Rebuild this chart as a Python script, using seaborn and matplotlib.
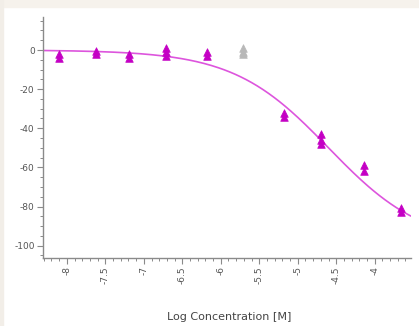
import numpy as np
import pandas as pd
import matplotlib
matplotlib.use("Agg")
import matplotlib.pyplot as plt
import seaborn as sns
from matplotlib.ticker import MultipleLocator

# replicate points (log M, % effect)
conc_x = [-8.10, -8.10, -7.62, -7.62, -7.19, -7.19, -6.71, -6.71, -6.71,
          -6.18, -6.18, -5.18, -5.18, -4.70, -4.70, -4.70,
          -4.14, -4.14, -3.66, -3.66]
resp_y = [-2, -4, -0.5, -2, -2, -4, 1, -1, -3,
          -1, -3, -32, -34, -43, -46, -48,
          -59, -62, -81, -83]
# excluded (grey) replicates
excl_x = [-5.71, -5.71, -5.71]
excl_y = [1, -1, -2]

# fitted 4PL curve parameters
fit_top = 0.0
fit_bottom = -100.0
fit_logic50 = -4.60
fit_hill = 0.70

sns.set_style("white")
plt.rcParams["axes.unicode_minus"] = False

fig = plt.figure(figsize=(4.19, 3.26), dpi=100)
fig.patch.set_facecolor("white")
# beige screenshot edge at top and left
fig.add_artist(plt.Rectangle((0, 0.978), 1, 0.022, transform=fig.transFigure,
                             color="#f6f2ec", zorder=0))
fig.add_artist(plt.Rectangle((0, 0), 0.008, 1, transform=fig.transFigure,
                             color="#f2eee8", zorder=0))

ax = fig.add_axes([0.1026, 0.2086, 0.878, 0.740])

xs = np.linspace(-8.31, -3.53, 200)
ys = fit_bottom + (fit_top - fit_bottom) / (1 + 10 ** ((xs - fit_logic50) * fit_hill))
curve = pd.DataFrame({"x": xs, "y": ys})
sns.lineplot(data=curve, x="x", y="y", color="#dd55dd", linewidth=1.2, ax=ax)

pts = pd.DataFrame({"x": conc_x, "y": resp_y})
sns.scatterplot(data=pts, x="x", y="y", marker="^", s=30, color="#c400c4",
                edgecolor="#c400c4", linewidth=0.5, ax=ax, zorder=3)
exc = pd.DataFrame({"x": excl_x, "y": excl_y})
sns.scatterplot(data=exc, x="x", y="y", marker="^", s=30, color="#b8b8b8",
                edgecolor="#b8b8b8", linewidth=0.5, ax=ax, zorder=3)

ax.set_xlim(-8.31, -3.53)
ax.set_ylim(-106.3, 17)

ax.xaxis.set_major_locator(MultipleLocator(0.5))
ax.xaxis.set_minor_locator(MultipleLocator(0.1))
ax.yaxis.set_major_locator(MultipleLocator(20))
ax.yaxis.set_minor_locator(MultipleLocator(5))
ax.set_xticks([-8, -7.5, -7, -6.5, -6, -5.5, -5, -4.5, -4])
ax.set_xticklabels(["-8", "-7.5", "-7", "-6.5", "-6", "-5.5", "-5", "-4.5", "-4"],
                   rotation=90, va="top", ha="center")

for s in ["top", "right"]:
    ax.spines[s].set_visible(False)
for s in ["left", "bottom"]:
    ax.spines[s].set_color("#8a8a8a")
    ax.spines[s].set_linewidth(1.0)

ax.tick_params(which="major", direction="out", length=4, width=0.8,
               color="#8a8a8a", labelsize=6.5, labelcolor="#555555",
               bottom=True, left=True, pad=2)
ax.tick_params(which="minor", direction="out", length=2, width=0.7,
               color="#8a8a8a", bottom=True, left=True)

ax.set_xlabel("")
ax.set_ylabel("")
fig.text(0.548, 0.012, "Log Concentration [M]", ha="center", va="bottom",
         fontsize=8, color="#444444")

fig.savefig("out.png", dpi=100)
